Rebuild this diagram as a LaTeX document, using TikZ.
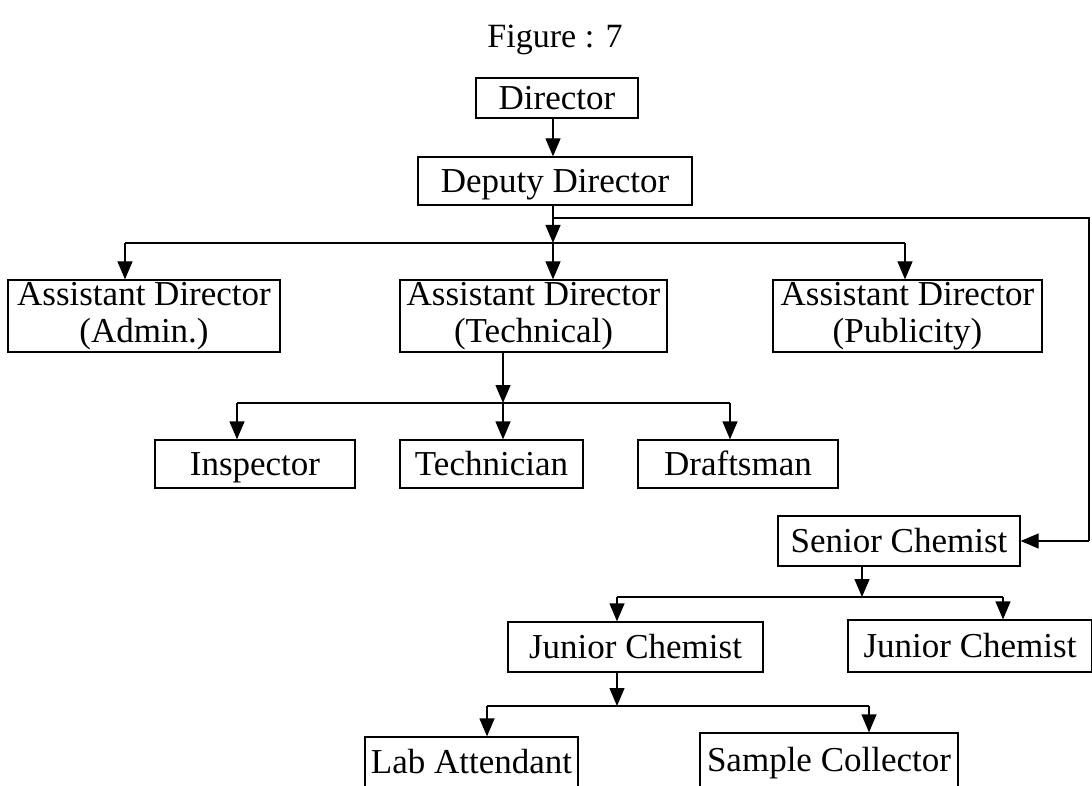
\documentclass[tikz,border=0pt]{standalone}
\usepackage{fontspec}
\setmainfont{Liberation Serif}
\usetikzlibrary{arrows.meta}
\begin{document}
\begin{tikzpicture}[x=1pt,y=-1pt,
  box/.style={draw,line width=1.3pt,inner sep=0pt,align=center,
    font=\fontsize{35}{36.5}\selectfont},
  one/.style={box,text height=28pt,text depth=5pt},
  two/.style={box},
  ln/.style={line width=1.3pt},
  arr/.style={ln,-{Triangle[length=18pt,width=15pt]}}]
\clip (0,0) rectangle (1092,786);
\fill[white] (0,0) rectangle (1092,786);
\node[font=\fontsize{34}{36}\selectfont] (fig) at (555,40) {Figure : 7};
% level boxes
\node[one,minimum width=162pt,minimum height=40pt] (dir) at (557,98) {Director};
\node[one,minimum width=274pt,minimum height=48pt] (dep) at (555,181) {Deputy Director};
\node[two,minimum width=272pt,minimum height=72pt] (adm) at (144,316) {Assistant Director\\(Admin.)};
\node[two,minimum width=267pt,minimum height=72pt] (tec) at (533.5,316) {Assistant Director\\(Technical)};
\node[two,minimum width=269pt,minimum height=72pt] (pub) at (907.5,316) {Assistant Director\\(Publicity)};
\node[one,minimum width=200pt,minimum height=48pt] (ins) at (255,464) {Inspector};
\node[one,minimum width=183pt,minimum height=48pt] (tcn) at (491.5,464) {Technician};
\node[one,minimum width=200pt,minimum height=48pt] (dra) at (738,464) {Draftsman};
\node[one,minimum width=242pt,minimum height=50pt] (sen) at (899,541) {Senior Chemist};
\node[one,minimum width=255pt,minimum height=50pt] (jcl) at (635.5,647) {Junior Chemist};
\node[one,minimum width=244pt,minimum height=52pt] (jcr) at (970,646) {Junior Chemist};
\node[one,minimum width=213pt,minimum height=50pt] (lab) at (471.5,762) {Lab Attendant};
\node[one,minimum width=258pt,minimum height=54pt] (smp) at (829,760) {Sample Collector};
% junction coordinates
\coordinate (b1) at (553,243);
\coordinate (b1l) at (125,243);
\coordinate (b1r) at (905,243);
\coordinate (s1) at (553,218);
\coordinate (rt) at (1089,218);
\coordinate (rb) at (1089,541);
\coordinate (b2) at (503,403);
\coordinate (b2l) at (237,403);
\coordinate (b2r) at (730,403);
\coordinate (b3) at (862,597);
\coordinate (b3l) at (617,597);
\coordinate (b3r) at (1003,597);
\coordinate (b4) at (617,706);
\coordinate (b4l) at (487,706);
\coordinate (b4r) at (869,706);
% connectors
\draw[arr] (dir.south -| 553,0) -- (dep.north -| 553,0);
\draw[arr] (dep.south -| b1) -- (b1);
\draw[ln] (b1l) -- (b1r);
\draw[arr] (b1l) -- (adm.north -| b1l);
\draw[arr] (b1) -- (tec.north -| b1);
\draw[arr] (b1r) -- (pub.north -| b1r);
\draw[ln] (s1) -- (rt) -- (rb);
\draw[arr] (rb) -- (sen.east);
\draw[arr] (tec.south -| b2) -- (b2);
\draw[ln] (b2l) -- (b2r);
\draw[arr] (b2l) -- (ins.north -| b2l);
\draw[arr] (b2) -- (tcn.north -| b2);
\draw[arr] (b2r) -- (dra.north -| b2r);
\draw[arr] (sen.south -| b3) -- (b3);
\draw[ln] (b3l) -- (b3r);
\draw[arr] (b3l) -- (jcl.north -| b3l);
\draw[arr] (b3r) -- (jcr.north -| b3r);
\draw[arr] (jcl.south -| b4) -- (b4);
\draw[ln] (b4l) -- (b4r);
\draw[arr] (b4l) -- (lab.north -| b4l);
\draw[arr] (b4r) -- (smp.north -| b4r);
\end{tikzpicture}
\end{document}
